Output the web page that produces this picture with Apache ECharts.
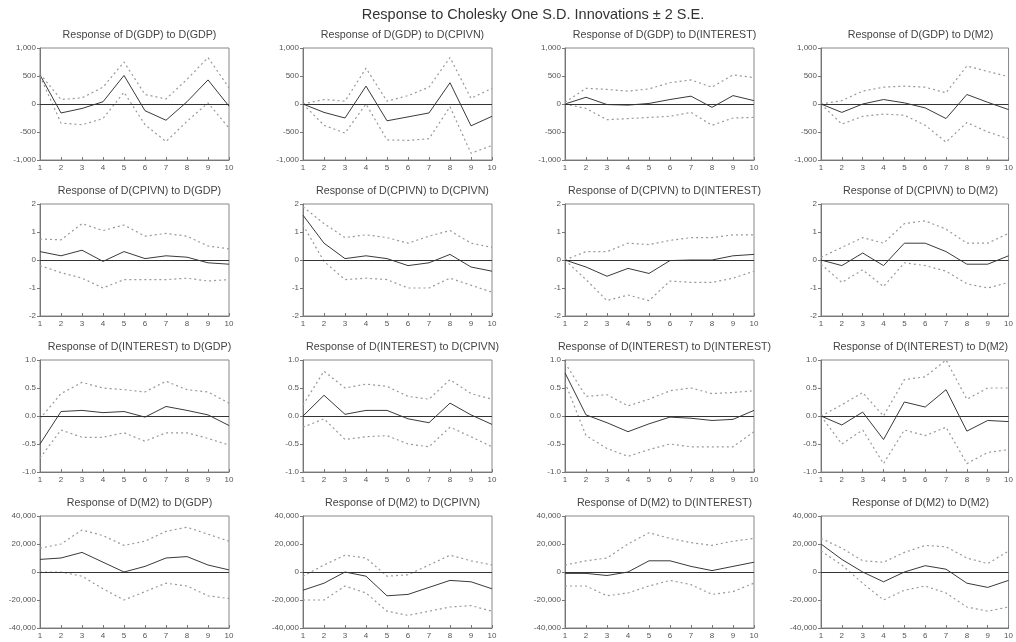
<!DOCTYPE html>
<html>
<head>
<meta charset="utf-8">
<script src="https://cdn.jsdelivr.net/npm/echarts@6/dist/echarts.min.js"></script>
<style>
  html, body { margin: 0; padding: 0; background: #fff; }
  #irf { width: 1016px; height: 642px; }
</style>
</head>
<body>
<div id="irf"></div>
<script>
var periods = ['1', '2', '3', '4', '5', '6', '7', '8', '9', '10'];
var names = ['GDP', 'CPIVN', 'INTEREST', 'M2'];

// response of D(GDP)
var gdp_gdp = [520, -160, -80, 40, 510, -120, -290, 40, 430, -40];
var gdp_gdp_up = [540, 80, 110, 300, 750, 170, 90, 440, 830, 290];
var gdp_gdp_lo = [500, -340, -370, -260, 210, -370, -670, -310, 20, -430];
var gdp_cpi = [0, -150, -250, 320, -300, -230, -160, 380, -390, -220];
var gdp_cpi_up = [0, 80, 50, 640, 50, 150, 300, 830, 100, 280];
var gdp_cpi_lo = [0, -380, -520, 0, -640, -650, -620, -50, -880, -740];
var gdp_int = [0, 120, -10, -20, 10, 80, 140, -60, 150, 60];
var gdp_int_up = [30, 280, 260, 230, 270, 380, 430, 300, 520, 470];
var gdp_int_lo = [0, -80, -280, -260, -240, -220, -150, -380, -250, -240];
var gdp_m2 = [0, -150, 0, 80, 20, -70, -260, 170, 30, -100];
var gdp_m2_up = [0, 60, 230, 300, 320, 300, 200, 680, 580, 490];
var gdp_m2_lo = [0, -360, -220, -180, -200, -380, -680, -330, -500, -620];

// response of D(CPIVN)
var cpi_gdp = [0.3, 0.15, 0.35, -0.05, 0.3, 0.05, 0.15, 0.1, -0.1, -0.15];
var cpi_gdp_up = [0.75, 0.72, 1.3, 1.05, 1.25, 0.85, 0.95, 0.85, 0.5, 0.4];
var cpi_gdp_lo = [-0.2, -0.45, -0.65, -1.0, -0.7, -0.7, -0.7, -0.65, -0.75, -0.7];
var cpi_cpi = [1.6, 0.6, 0.05, 0.15, 0.05, -0.2, -0.1, 0.2, -0.25, -0.4];
var cpi_cpi_up = [1.9, 1.3, 0.8, 0.9, 0.8, 0.6, 0.85, 1.05, 0.6, 0.45];
var cpi_cpi_lo = [1.25, -0.05, -0.7, -0.65, -0.7, -1.0, -1.0, -0.65, -0.9, -1.15];
var cpi_int = [0, -0.25, -0.58, -0.3, -0.48, -0.02, 0, 0, 0.15, 0.2];
var cpi_int_up = [0, 0.3, 0.3, 0.6, 0.55, 0.7, 0.8, 0.8, 0.9, 0.9];
var cpi_int_lo = [0, -0.7, -1.45, -1.25, -1.45, -0.75, -0.8, -0.8, -0.65, -0.4];
var cpi_m2 = [0, -0.2, 0.25, -0.2, 0.6, 0.6, 0.3, -0.15, -0.15, 0.15];
var cpi_m2_up = [0.1, 0.45, 0.8, 0.6, 1.3, 1.4, 1.1, 0.6, 0.6, 0.95];
var cpi_m2_lo = [-0.15, -0.8, -0.35, -0.95, -0.1, -0.2, -0.4, -0.85, -1.0, -0.8];

// response of D(INTEREST)
var int_gdp = [-0.5, 0.08, 0.1, 0.06, 0.08, -0.02, 0.17, 0.1, 0.02, -0.17];
var int_gdp_up = [-0.05, 0.4, 0.6, 0.5, 0.47, 0.43, 0.62, 0.47, 0.43, 0.23];
var int_gdp_lo = [-0.75, -0.25, -0.38, -0.38, -0.3, -0.45, -0.3, -0.3, -0.4, -0.52];
var int_cpi = [0, 0.37, 0.03, 0.1, 0.1, -0.05, -0.12, 0.23, 0.02, -0.15];
var int_cpi_up = [0.2, 0.8, 0.5, 0.57, 0.53, 0.35, 0.3, 0.65, 0.4, 0.3];
var int_cpi_lo = [-0.2, -0.05, -0.42, -0.37, -0.35, -0.5, -0.55, -0.2, -0.37, -0.55];
var int_int = [0.77, 0.02, -0.12, -0.28, -0.14, -0.02, -0.04, -0.08, -0.06, 0.1];
var int_int_up = [0.95, 0.35, 0.38, 0.18, 0.3, 0.45, 0.5, 0.4, 0.42, 0.45];
var int_int_lo = [0.6, -0.35, -0.58, -0.72, -0.6, -0.5, -0.55, -0.55, -0.55, -0.28];
var int_m2 = [0, -0.16, 0.07, -0.42, 0.25, 0.16, 0.47, -0.27, -0.08, -0.1];
var int_m2_up = [0, 0.2, 0.42, 0.0, 0.65, 0.7, 1.0, 0.3, 0.5, 0.5];
var int_m2_lo = [0, -0.5, -0.25, -0.85, -0.25, -0.35, -0.2, -0.85, -0.65, -0.6];

// response of D(M2)
var m2_gdp = [9000, 10000, 14000, 7000, 0, 4000, 10000, 11000, 5000, 1500];
var m2_gdp_up = [17000, 20000, 30000, 26000, 19000, 22000, 29000, 32000, 27000, 22000];
var m2_gdp_lo = [0, 0, -3000, -12000, -20000, -14000, -8000, -10000, -17000, -19000];
var m2_cpi = [-13000, -8000, 0, -3000, -17000, -16000, -11000, -6000, -7000, -12000];
var m2_cpi_up = [-3000, 5000, 12000, 10000, -3000, -2000, 5000, 12000, 8000, 5000];
var m2_cpi_lo = [-20000, -20000, -10000, -15000, -28000, -31000, -28000, -25000, -24000, -28000];
var m2_int = [-1000, -1000, -2500, 0, 8000, 8000, 4000, 1000, 4000, 7000];
var m2_int_up = [5000, 8000, 10000, 20000, 28000, 24000, 21000, 19000, 22000, 24000];
var m2_int_lo = [-10000, -10000, -17000, -15000, -10000, -6000, -9000, -16000, -14000, -8000];
var m2_m2 = [20000, 9000, 0, -7000, 0, 4500, 2000, -8000, -11000, -6000];
var m2_m2_up = [24000, 17000, 8000, 7000, 14000, 19000, 18000, 10000, 6000, 15000];
var m2_m2_lo = [15000, 5000, -8000, -20000, -13000, -10000, -15000, -25000, -28000, -25000];

// y axis per responding variable: [min, max, interval]
var yRange = [[-1000, 1000, 500], [-2, 2, 1], [-1, 1, 0.5], [-40000, 40000, 20000]];

var panels = [
  [[gdp_gdp, gdp_gdp_up, gdp_gdp_lo], [gdp_cpi, gdp_cpi_up, gdp_cpi_lo], [gdp_int, gdp_int_up, gdp_int_lo], [gdp_m2, gdp_m2_up, gdp_m2_lo]],
  [[cpi_gdp, cpi_gdp_up, cpi_gdp_lo], [cpi_cpi, cpi_cpi_up, cpi_cpi_lo], [cpi_int, cpi_int_up, cpi_int_lo], [cpi_m2, cpi_m2_up, cpi_m2_lo]],
  [[int_gdp, int_gdp_up, int_gdp_lo], [int_cpi, int_cpi_up, int_cpi_lo], [int_int, int_int_up, int_int_lo], [int_m2, int_m2_up, int_m2_lo]],
  [[m2_gdp, m2_gdp_up, m2_gdp_lo], [m2_cpi, m2_cpi_up, m2_cpi_lo], [m2_int, m2_int_up, m2_int_lo], [m2_m2, m2_m2_up, m2_m2_lo]]
];

var colLeft = [40, 303, 565, 821];
var plotW = 189;
var rowTop = [48, 204, 360, 516];
var plotH = 112;

function fmt(row) {
  return function (v) {
    if (row == 2) return v.toFixed(1);
    return v.toLocaleString('en-US');
  };
}

var font = 'Liberation Sans, Arial, sans-serif';
var titles = [{
  text: 'Response to Cholesky One S.D. Innovations \u00b1 2 S.E.',
  left: 528, top: 2, textAlign: 'center',
  textStyle: { fontSize: 14.5, fontWeight: 'normal', color: '#333', fontFamily: font }
}];
var grids = [], xAxes = [], yAxes = [], series = [];

for (var r = 0; r < 4; r++) {
  for (var c = 0; c < 4; c++) {
    var k = r * 4 + c;
    titles.push({
      text: 'Response of D(' + names[r] + ') to D(' + names[c] + ')',
      left: colLeft[c] + plotW / 2, top: rowTop[r] - 23, textAlign: 'center',
      textStyle: { fontSize: 10.7, fontWeight: 'normal', color: '#444', fontFamily: font }
    });
    grids.push({
      left: colLeft[c], top: rowTop[r], width: plotW, height: plotH,
      show: true, borderColor: '#888', borderWidth: 1, backgroundColor: '#fff'
    });
    xAxes.push({
      type: 'category', gridIndex: k, data: periods, boundaryGap: false,
      axisLine: { onZero: false, lineStyle: { color: '#777' } },
      axisTick: { alignWithLabel: true, inside: true, length: 3, lineStyle: { color: '#777' } },
      axisLabel: { fontSize: 8, color: '#555', margin: 4, fontFamily: font },
      splitLine: { show: false }
    });
    yAxes.push({
      type: 'value', gridIndex: k,
      min: yRange[r][0], max: yRange[r][1], interval: yRange[r][2],
      axisLine: { show: true, lineStyle: { color: '#777' } },
      axisTick: { show: true, length: 3, lineStyle: { color: '#777' } },
      axisLabel: { fontSize: 8, color: '#555', margin: 4, fontFamily: font, formatter: fmt(r) },
      splitLine: { show: false }
    });
    var d = panels[r][c];
    series.push({
      type: 'line', xAxisIndex: k, yAxisIndex: k, data: d[0],
      symbol: 'none', lineStyle: { color: '#3a3a3a', width: 1 }, z: 3,
      markLine: {
        silent: true, symbol: 'none', label: { show: false },
        lineStyle: { color: '#333', type: 'solid', width: 1 },
        data: [{ yAxis: 0 }]
      }
    });
    series.push({
      type: 'line', xAxisIndex: k, yAxisIndex: k, data: d[1],
      symbol: 'none', lineStyle: { color: '#999', width: 1.2, type: [2, 3] }
    });
    series.push({
      type: 'line', xAxisIndex: k, yAxisIndex: k, data: d[2],
      symbol: 'none', lineStyle: { color: '#999', width: 1.2, type: [2, 3] }
    });
  }
}

var myChart = echarts.init(document.getElementById('irf'));
myChart.setOption({
  animation: false,
  backgroundColor: '#fff',
  title: titles,
  grid: grids,
  xAxis: xAxes,
  yAxis: yAxes,
  series: series
});
</script>
</body>
</html>
